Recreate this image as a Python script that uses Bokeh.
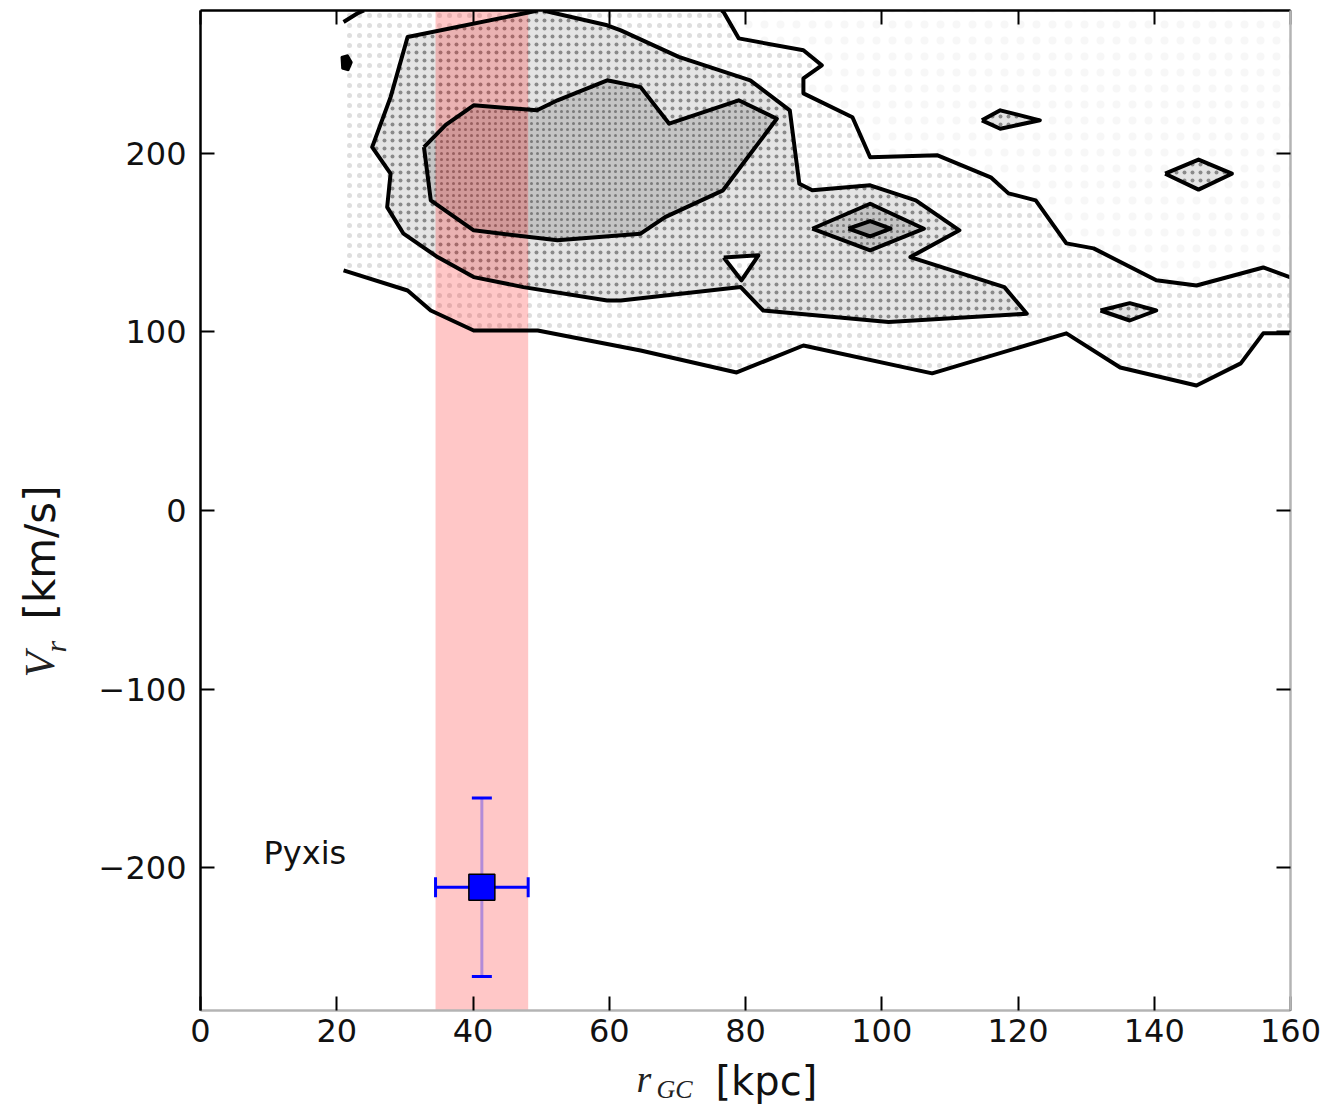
import math
from bokeh.plotting import figure
from bokeh.layouts import row, column
from bokeh.models import (ColumnDataSource, LinearAxis, FixedTicker, Label, Range1d)
from bokeh.core.properties import value
from bokeh.embed import file_html
from bokeh.resources import INLINE

# ---------------- data ----------------
x_ticks = [0, 20, 40, 60, 80, 100, 120, 140, 160]
y_ticks = [-200, -100, 0, 100, 200]

# outer (lowest) contour level: two open branches
outer_lower_r = [21.0, 30.4, 33.8, 40.1, 49.5, 64.6, 78.7, 88.5, 107.4, 127.1, 135.0, 146.2, 152.7, 156.0, 160.0]
outer_lower_v = [134.5, 123.2, 112.0, 100.8, 100.8, 89.6, 77.3, 92.4, 76.8, 99.2, 80.1, 70.0, 82.4, 99.2, 99.2]
outer_upper_r = [76.5, 76.8, 79.0, 88.5, 91.2, 88.5, 88.5, 95.7, 98.3, 108.2, 116.0, 118.6, 122.6, 127.1, 131.1, 140.3, 146.2, 156.0, 160.0]
outer_upper_v = [280.0, 279.0, 264.4, 257.7, 249.3, 242.0, 233.6, 220.2, 197.8, 198.9, 186.6, 177.6, 173.7, 149.6, 146.8, 128.9, 126.0, 136.1, 130.5]
outer_frag_r = [21.0, 23.0, 24.0]
outer_frag_v = [273.6, 278.3, 280.0]
blob_r = [20.7, 21.6, 22.2, 21.7, 20.8]
blob_v = [254.0, 255.0, 251.0, 246.5, 247.5]

# middle contour level
middle_r = [49.5, 47.4, 30.4, 27.9, 25.2, 27.9, 27.4, 29.8, 34.8, 40.1, 47.4, 59.7, 61.7, 79.3, 82.6,
            101.0, 121.3, 118.0, 104.2, 111.4, 105.0, 98.3, 89.8, 87.9, 86.5, 80.7, 70.2, 61.7, 59.7, 50.3]
middle_v = [280.0, 278.3, 265.2, 231.5, 203.5, 188.6, 169.9, 155.0, 141.9, 130.7, 125.1, 117.6, 117.6, 125.1, 112.0,
            105.5, 110.2, 125.1, 141.9, 156.9, 173.7, 182.1, 179.3, 183.0, 224.1, 240.9, 254.0, 268.9, 271.7, 280.0]
hole_r = [76.8, 81.9, 79.4]
hole_v = [141.7, 142.9, 128.9]

# inner contour level
inner_r = [32.8, 36.0, 40.1, 49.4, 52.4, 59.7, 64.6, 68.8, 79.0, 84.6, 80.0, 76.7, 68.2, 64.6, 52.4, 40.1, 33.8]
inner_v = [203.5, 216.0, 226.9, 224.1, 229.7, 240.9, 237.1, 216.6, 229.7, 219.4, 196.1, 179.3, 164.3, 155.0, 151.3, 156.9, 173.7]

# small isolated contours
d1_r = [114.7, 117.4, 123.2, 117.4]; d1_v = [218.5, 224.1, 218.5, 213.8]
d2_r = [141.6, 146.5, 151.4, 146.5]; d2_v = [188.6, 196.5, 188.6, 179.7]
d3_r = [132.1, 136.4, 140.3, 136.4]; d3_v = [112.0, 116.1, 112.0, 106.4]
d4_r = [89.8, 98.3, 106.2, 98.3];    d4_v = [157.8, 171.8, 157.8, 145.7]
d5_r = [95.1, 98.3, 101.3, 98.3];    d5_v = [157.8, 162.1, 157.8, 153.5]

# Pyxis
band_lo, band_hi = 34.5, 48.1
pyx_r, pyx_r_err = 41.3, 6.8
pyx_v, pyx_v_err = -211.0, 50.0

# ---------------- geometry ----------------
YLAB_W = 84          # left strip holding the y-axis title
XLAB_H = 48          # bottom strip holding the x-axis title
TOTAL_W, TOTAL_H = 1327, 1104
MAIN_W = TOTAL_W - YLAB_W
MAIN_H = TOTAL_H - XLAB_H
X0, X1, Y0, Y1 = 0, 160, -280, 280
FL, FR, FT, FB = 200, 1290, 10, 1010   # frame edges in page pixels


def px2x(px):
    return X0 + (px - FL) * (X1 - X0) / (FR - FL)


def px2y(py):
    return Y1 - (py - FT) * (Y1 - Y0) / (FB - FT)


p = figure(width=MAIN_W, height=MAIN_H, x_range=Range1d(X0, X1), y_range=Range1d(Y0, Y1),
           output_backend="svg", toolbar_location=None, title=None,
           x_axis_location=None, y_axis_location=None,
           min_border_left=FL - YLAB_W, min_border_right=TOTAL_W - FR,
           min_border_top=FT, min_border_bottom=MAIN_H - FB)
p.grid.grid_line_color = None
p.outline_line_color = None
p.background_fill_color = "white"
p.border_fill_color = "white"

TICK_FONT = "DejaVu Sans"


def mk_axis(ticks, labels, line_color, overrides=None):
    ax = LinearAxis(ticker=FixedTicker(ticks=ticks))
    ax.axis_line_color = line_color
    ax.axis_line_width = 2.5
    ax.major_tick_in = 14
    ax.major_tick_out = 0
    ax.major_tick_line_width = 2
    ax.major_tick_line_color = "black"
    ax.minor_tick_line_color = None
    if labels:
        ax.major_label_text_font = TICK_FONT
        ax.major_label_text_font_size = "32px"
        ax.major_label_text_color = "#111111"
        ax.major_label_standoff = 8
        if overrides:
            ax.major_label_overrides = overrides
    else:
        ax.major_label_text_font_size = "1px"
        ax.major_label_text_color = None
        ax.major_label_standoff = 0
    return ax


bottom_axis = mk_axis(x_ticks, True, "#b4b4b4")
left_axis = mk_axis(y_ticks, True, "black", {-200: "\u2212200", -100: "\u2212100"})
left_axis.major_label_standoff = 14
p.add_layout(bottom_axis, "below")
p.add_layout(left_axis, "left")
p.add_layout(mk_axis(x_ticks, False, "black"), "above")
p.add_layout(mk_axis(y_ticks, False, "#b4b4b4"), "right")

# ---------------- scatter cloud, drawn as dot textures by density level ----------------
DOT = "#8a8a8a"
p.patches([outer_upper_r + [160.0]], [outer_upper_v + [280.0]], fill_color=None, line_color=None,
          hatch_pattern="dot", hatch_scale=16, hatch_color=DOT, hatch_alpha=0.07)
p.patches([outer_lower_r + outer_upper_r[::-1] + [21.0]], [outer_lower_v + outer_upper_v[::-1] + [280.0]],
          fill_color=None, line_color=None,
          hatch_pattern="dot", hatch_scale=10, hatch_color=DOT, hatch_alpha=0.28)
p.patches([middle_r, d1_r, d2_r, d3_r], [middle_v, d1_v, d2_v, d3_v],
          fill_color="#e4e4e4", line_color=None,
          hatch_pattern="dot", hatch_scale=8, hatch_color=DOT, hatch_alpha=1.0)
p.patches([hole_r], [hole_v], fill_color="white", line_color=None,
          hatch_pattern="dot", hatch_scale=10, hatch_color=DOT, hatch_alpha=0.28)
p.patches([inner_r, d4_r], [inner_v, d4_v], fill_color="#c4c4c4", line_color=None,
          hatch_pattern="dot", hatch_scale=6, hatch_color="#7a7a7a", hatch_alpha=1.0)
p.patches([d5_r], [d5_v], fill_color="#9a9a9a", line_color=None)

# pink band
p.quad(left=[band_lo], right=[band_hi], bottom=[Y0], top=[Y1], fill_color="#ff0000",
       fill_alpha=0.22, line_color=None)

# contour lines
lines = ColumnDataSource(dict(
    xs=[outer_lower_r, outer_upper_r, outer_frag_r, middle_r,
        hole_r + hole_r[:1], inner_r + inner_r[:1],
        d1_r + d1_r[:1], d2_r + d2_r[:1], d3_r + d3_r[:1], d4_r + d4_r[:1], d5_r + d5_r[:1]],
    ys=[outer_lower_v, outer_upper_v, outer_frag_v, middle_v,
        hole_v + hole_v[:1], inner_v + inner_v[:1],
        d1_v + d1_v[:1], d2_v + d2_v[:1], d3_v + d3_v[:1], d4_v + d4_v[:1], d5_v + d5_v[:1]],
))
p.multi_line("xs", "ys", source=lines, line_color="black", line_width=4, line_join="round")
p.patch(blob_r, blob_v, fill_color="black", line_color="black", line_width=2)

# Pyxis point with error bars
p.segment(x0=[pyx_r], y0=[pyx_v - pyx_v_err], x1=[pyx_r], y1=[pyx_v + pyx_v_err],
          line_color="blue", line_alpha=0.3, line_width=3)
p.scatter(x=[pyx_r, pyx_r], y=[pyx_v - pyx_v_err, pyx_v + pyx_v_err], marker="dash", size=20,
          line_color="blue", line_width=3)
p.segment(x0=[pyx_r - pyx_r_err], y0=[pyx_v], x1=[pyx_r + pyx_r_err], y1=[pyx_v],
          line_color="blue", line_width=3)
p.scatter(x=[pyx_r - pyx_r_err, pyx_r + pyx_r_err], y=[pyx_v, pyx_v], marker="dash",
          angle=math.pi / 2, size=20, line_color="blue", line_width=3)
p.scatter(x=[pyx_r], y=[pyx_v], marker="square", size=26, fill_color="blue",
          line_color="black", line_width=1.5)

p.add_layout(Label(x=px2x(263), y=px2y(852), text="Pyxis", text_font="DejaVu Sans",
                   text_font_size="32px", text_color="#111111", text_baseline="middle"))

# ---------------- axis titles (italic math + sans text) ----------------
SERIF = "Liberation Serif"


def strip(w, h, xr, yr):
    f = figure(width=w, height=h, x_range=xr, y_range=yr,
               output_backend="svg", toolbar_location=None, title=None,
               x_axis_location=None, y_axis_location=None,
               min_border=0, min_border_left=0, min_border_right=0,
               min_border_top=0, min_border_bottom=0)
    f.grid.grid_line_color = None
    f.outline_line_color = None
    f.background_fill_color = "white"
    f.border_fill_color = "white"
    return f


# y title strip: frame covers page x 0..YLAB_W, page y 0..1104 (y measured upward here)
ys = strip(YLAB_W, TOTAL_H, Range1d(0, YLAB_W), Range1d(0, TOTAL_H))
ys.text(x=[39], y=[TOTAL_H - 677], text=["V"], angle=math.pi / 2, text_font=value(SERIF),
        text_font_style="italic", text_font_size="42px", text_color="#222222",
        text_baseline="middle", text_align="left")
ys.text(x=[55], y=[TOTAL_H - 652], text=["r"], angle=math.pi / 2, text_font=value(SERIF),
        text_font_style="italic", text_font_size="30px", text_color="#222222",
        text_baseline="middle", text_align="left")
ys.text(x=[40], y=[TOTAL_H - 619], text=["[km/s]"], angle=math.pi / 2,
        text_font=value("DejaVu Sans"), text_font_size="42px", text_color="#111111",
        text_baseline="middle", text_align="left")

# x title strip: its frame is aligned with the main frame (page x 200..1290),
# page y MAIN_H..1104 -> use page pixels directly (y range reversed)
xs = strip(MAIN_W, XLAB_H, Range1d(FL, FR), Range1d(TOTAL_H, MAIN_H))
xs.text(x=[636], y=[1078], text=["r"], text_font=value(SERIF),
        text_font_style="italic", text_font_size="38px", text_color="#222222",
        text_baseline="middle", text_align="left")
xs.text(x=[656], y=[1089], text=["GC"], text_font=value(SERIF),
        text_font_style="italic", text_font_size="26px", text_color="#222222",
        text_baseline="middle", text_align="left")
xs.text(x=[715], y=[1080], text=["[kpc]"], text_font=value("DejaVu Sans"),
        text_font_size="40px", text_color="#111111",
        text_baseline="middle", text_align="left")

layout = row(ys, column(p, xs, spacing=0), spacing=0)
open("out.html", "w").write(file_html(layout, INLINE))
